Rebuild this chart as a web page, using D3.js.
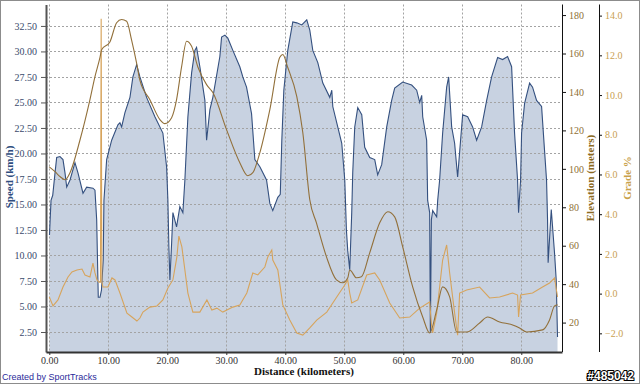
<!DOCTYPE html>
<html><head><meta charset="utf-8">
<script src="https://cdn.jsdelivr.net/npm/d3@7"></script>
<style>body{margin:0;background:#fff}svg{display:block}</style>
</head><body><svg id="c" width="640" height="384"></svg>
<script>
// ---- data ----
const speedKm = [0.03,0.29,0.58,0.97,1.25,1.81,2.32,2.66,2.95,3.51,4.35,4.86,5.71,6.33,7.40,7.74,8.03,8.30,8.59,8.84,
  9.14,9.26,9.72,10.57,11.63,11.97,12.26,12.82,13.67,14.17,14.80,15.36,16.49,17.90,19.25,19.88,20.10,20.27,20.44,20.73,
  20.95,21.57,22.13,22.64,22.98,23.49,24.12,24.67,24.96,25.52,26.37,26.66,27.22,27.72,28.91,29.20,29.76,30.26,31.11,32.29,
  32.80,33.43,34.28,34.84,35.69,36.82,37.38,37.88,38.73,39.15,39.41,39.75,40.42,41.27,41.95,42.80,43.64,44.15,44.66,45.51,
  46.36,47.54,47.88,48.05,48.89,49.57,50.08,50.36,50.58,50.92,51.26,51.43,51.77,52.28,52.96,53.46,54.31,55.16,55.66,56.34,
  57.19,58.03,58.54,59.90,61.42,62.27,62.78,63.12,63.29,63.96,64.13,64.47,64.59,64.76,64.98,65.66,65.83,66.16,66.67,67.35,
  67.69,68.20,68.70,69.21,69.89,70.06,70.91,71.75,72.43,73.28,74.13,74.97,75.99,76.83,77.68,78.36,78.86,79.37,79.54,79.88,
  80.05,80.56,81.41,81.91,82.59,83.44,83.94,84.28,84.45,84.55,85.08,85.64,85.92,86.14];
const speedKmh = [12.0,15.4,15.9,18.1,19.6,19.7,19.4,18.1,16.7,17.4,19.1,18.1,16.1,16.7,16.6,16.4,13.5,5.9,5.9,6.6,
  9.6,15.4,19.4,21.3,22.8,23.0,22.6,24.0,25.5,27.5,28.7,27.5,25.5,23.6,22.0,18.7,15.4,10.8,7.6,11.2,
  14.2,12.8,14.8,14.2,17.4,23.6,27.9,30.1,30.4,28.5,25.2,21.3,24.3,25.5,29.5,31.4,31.6,31.3,30.1,28.5,
  27.5,26.5,23.9,19.4,18.7,17.4,15.1,14.4,15.7,16.0,21.3,26.2,30.1,32.9,32.8,32.6,33.1,32.1,30.1,28.9,
  26.9,25.5,26.2,24.6,22.6,21.0,17.4,12.5,10.5,8.6,14.2,18.1,22.6,24.5,23.8,20.6,19.6,19.4,17.9,18.9,
  22.6,25.2,26.4,27.0,26.7,26.2,25.0,25.7,23.6,21.3,15.4,14.2,2.4,13.5,14.4,13.8,15.4,17.4,22.0,26.5,
  27.5,22.6,21.0,17.7,22.6,23.8,23.6,22.6,21.3,22.6,25.2,27.5,29.4,29.2,29.5,28.5,22.0,17.4,14.2,17.4,
  22.0,24.9,26.9,26.5,25.2,24.6,20.3,17.4,13.5,9.3,14.5,10.2,7.6,2.0];

const elevKm = [0,0.97,1.81,2.66,3.51,5.20,6.89,7.74,8.59,8.87,10.27,11.41,12.26,13.11,13.95,14.80,15.36,17.05,18.75,19.59,
  20.73,21.57,22.42,23.27,24.12,25.18,26.66,27.72,30.04,32.29,33.65,34.50,35.69,37.38,39.07,39.58,40.42,41.95,42.97,44.15,
  45.28,46.98,48.67,49.74,50.59,50.92,52.06,52.90,54.31,56.00,57.36,58.54,59.90,61.59,63.29,64.47,65.66,66.67,67.86,69.04,
  70.74,72.94,74.30,76.33,78.53,79.71,80.90,83.60,84.79,85.64,86.14];
const elevM = [101,98.5,96,94.3,98,115,136,148,158,162,166,176,177.7,176.8,167,155,146,136,125.6,123.5,
  126.6,136,153,166.4,163.8,153,143.8,139.7,120.4,103.2,96.4,98,108.4,130.8,158,159.5,152.7,137.6,118.8,83.9,
  71.9,54.2,42.2,40.7,43.3,47.4,43.3,43.8,56.3,71.9,77.7,75.0,59.4,38.6,22.9,14.6,26.6,38.6,33.4,15.1,
  15.1,19.8,22.9,20.3,18.8,17.2,15.1,16.2,21.4,28.7,29.2];

const gradeKm = [0,0.63,1.47,2.32,3.17,3.84,4.69,5.54,6.05,6.89,7.40,7.74,8.08,8.42,8.67,8.79,8.91,9.09,9.94,10.62,
  11.13,11.97,13.16,14.00,14.85,15.36,15.87,17.05,18.24,19.25,20.10,20.95,21.62,21.96,22.47,22.98,23.49,24.33,25.52,26.71,
  27.55,28.40,29.41,31.11,32.29,33.48,34.49,35.34,36.53,37.03,37.71,37.88,38.73,39.58,40.76,41.95,42.97,44.15,45.33,47.03,
  48.72,50.08,50.58,50.92,51.26,52.28,53.80,55.16,56.00,57.70,59.39,61.09,62.78,64.47,64.81,64.98,65.66,66.67,67.35,67.86,
  68.70,69.21,69.55,70.74,72.94,74.63,76.33,78.53,79.37,79.54,79.88,81.91,83.60,84.79,85.64,86.14];
const gradePct = [-0.17,-0.62,-0.32,0.33,0.84,1.09,1.19,1.24,0.94,0.84,1.54,1.04,0.69,0.58,0.58,13.84,0.58,0.33,0.33,0.79,
  0.69,0.03,-0.98,-1.18,-1.38,-1.23,-0.93,-0.68,-0.62,-0.32,0.28,0.69,1.84,2.90,2.35,1.19,0.03,-0.93,-0.93,-0.32,
  -0.83,-0.73,-0.93,-0.68,-0.57,0.03,1.04,0.94,1.34,1.84,2.20,1.69,1.19,-0.57,-1.33,-1.98,-2.09,-1.73,-1.33,-0.93,
  -0.17,0.43,0.69,0.03,-0.47,-0.32,0.94,1.04,0.69,-0.47,-1.23,-1.18,-0.73,-0.42,-1.68,-1.98,-0.98,1.69,2.45,1.04,
  -0.98,-2.09,0.03,0.18,0.33,-0.22,-0.17,0.03,-0.07,-1.18,-0.07,0.03,0.33,0.53,0.79,-0.17];

const distTicks = [0,10,20,30,40,50,60,70,80];
const speedTicks = [2.5,5,7.5,10,12.5,15,17.5,20,22.5,25,27.5,30,32.5];
const elevTicks = [20,40,60,80,100,120,140,160,180];
const gradeTicks = [-2,0,2,4,6,8,10,12,14];

// ---- layout ----
const L = 46, R = 562, T = 4.5, B = 352, GX = 599;
const svg = d3.select("#c");
const serif = "'Liberation Serif','Times New Roman',serif";

const x = d3.scaleLinear().domain([-0.56, 86.9]).range([L, R]);
const yS = d3.scaleLinear().domain([0.54, 34.6]).range([B, T]);
const yE = d3.scaleLinear().domain([4.7, 185.5]).range([B, T]);
const yG = d3.scaleLinear().domain([-2.94, 14.56]).range([B, T]);

svg.append("rect").attr("x",0.5).attr("y",0.5).attr("width",639).attr("height",383)
  .attr("fill","#fff").attr("stroke","#8c8c8c");

// speed area
const speed = speedKm.map((k,i)=>({k, v: speedKmh[i]}));
svg.append("path").datum(speed)
  .attr("d", d3.area().x(d=>x(d.k)).y0(B).y1(d=>yS(d.v)))
  .attr("fill","#c8d2e1");

// grid
const g = svg.append("g").attr("stroke","#a3a3a3").attr("stroke-dasharray","2,2").attr("stroke-width",1);
speedTicks.forEach(t=>{ const yy = Math.round(yS(t))+0.5;
  g.append("line").attr("x1",L).attr("x2",R).attr("y1",yy).attr("y2",yy); });
distTicks.forEach(t=>{ const xx = Math.round(x(t))+0.5;
  g.append("line").attr("x1",xx).attr("x2",xx).attr("y1",T).attr("y2",B); });

// speed line
svg.append("path").datum(speed)
  .attr("d", d3.line().x(d=>x(d.k)).y(d=>yS(d.v)))
  .attr("fill","none").attr("stroke","#34507f").attr("stroke-width",1.1);

// grade line
const grade = gradeKm.map((k,i)=>({k, v: gradePct[i]}));
svg.append("path").datum(grade)
  .attr("d", d3.line().x(d=>x(d.k)).y(d=>yG(d.v)))
  .attr("fill","none").attr("stroke","#d7a45c").attr("stroke-width",1.1);

// elevation line
const elev = elevKm.map((k,i)=>({k, v: elevM[i]}));
svg.append("path").datum(elev)
  .attr("d", d3.line().curve(d3.curveMonotoneX).x(d=>x(d.k)).y(d=>yE(d.v)))
  .attr("fill","none").attr("stroke","#92703a").attr("stroke-width",1.1);

// axes
function styleAxis(sel, color, lineColor, width){
  sel.selectAll("text").attr("font-family", serif).attr("font-size", 10).attr("fill", color);
  sel.selectAll("line").attr("stroke", lineColor);
  sel.select(".domain").attr("stroke", lineColor).attr("stroke-width", width);
}
const axL = svg.append("g").attr("transform",`translate(${L},0)`)
  .call(d3.axisLeft(yS).tickValues(speedTicks).tickFormat(d3.format(".2f")).tickSize(5).tickSizeOuter(0));
styleAxis(axL, "#3a4a6c", "#555", 2);
axL.selectAll("text").attr("dx", -1);

const axB = svg.append("g").attr("transform",`translate(0,${B})`)
  .call(d3.axisBottom(x).tickValues(distTicks).tickFormat(d3.format(".2f")).tickSize(3).tickSizeOuter(0));
styleAxis(axB, "#333", "#333", 2);
axB.selectAll("text").attr("dy","0.55em");

const axE = svg.append("g").attr("transform",`translate(${R},0)`)
  .call(d3.axisRight(yE).tickValues(elevTicks).tickFormat(d3.format("d")).tickSize(4).tickSizeOuter(0));
styleAxis(axE, "#8e7035", "#111", 1);
axE.select(".domain").attr("d", `M0.5,${T}V${B}`);

const axG = svg.append("g").attr("transform",`translate(${GX},0)`)
  .call(d3.axisRight(yG).tickValues(gradeTicks).tickFormat(d3.format(".1f")).tickSize(3).tickSizeOuter(0));
styleAxis(axG, "#c9a050", "#111", 1);
axG.select(".domain").attr("d", `M0.5,${T}V${B}`);

// titles
svg.append("text").attr("transform","translate(13,177) rotate(-90)").attr("text-anchor","middle")
  .attr("font-family",serif).attr("font-weight","bold").attr("font-size",11).attr("fill","#2f4d7e")
  .text("Speed (km/h)");
svg.append("text").attr("transform","translate(594,178) rotate(-90)").attr("text-anchor","middle")
  .attr("font-family",serif).attr("font-weight","bold").attr("font-size",11).attr("fill","#8b6a22")
  .text("Elevation (meters)");
svg.append("text").attr("transform","translate(631,178) rotate(-90)").attr("text-anchor","middle")
  .attr("font-family",serif).attr("font-weight","bold").attr("font-size",11).attr("fill","#c9a14a")
  .text("Grade %");
svg.append("text").attr("x",304).attr("y",375).attr("text-anchor","middle")
  .attr("font-family",serif).attr("font-weight","bold").attr("font-size",11).attr("fill","#111")
  .text("Distance (kilometers)");
svg.append("text").attr("x",2).attr("y",380)
  .attr("font-family","'Liberation Sans',Arial,sans-serif").attr("font-size",9).attr("fill","#2b2b9b")
  .text("Created by SportTracks");
svg.append("text").attr("x",634).attr("y",380).attr("text-anchor","end")
  .attr("font-family","'Liberation Sans',Arial,sans-serif").attr("font-weight","bold").attr("font-size",12)
  .attr("fill","#fff").attr("stroke","#000").attr("stroke-width",2).attr("paint-order","stroke")
  .text("#485042");
</script></body></html>
